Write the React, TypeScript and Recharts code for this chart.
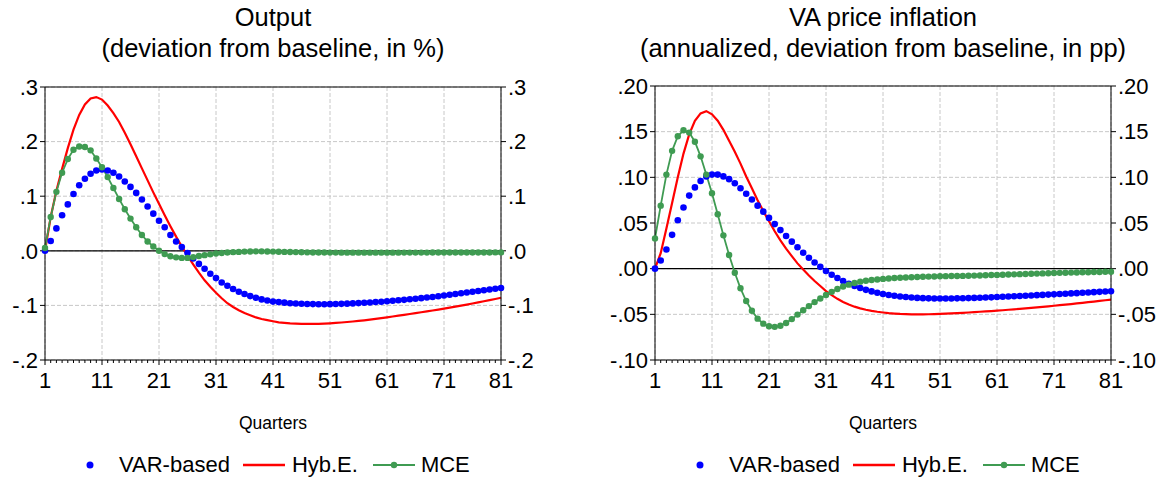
import { LineChart, Line, XAxis, YAxis, CartesianGrid, ReferenceLine } from "recharts";

const QUARTERS = Array.from({ length: 81 }, (_, i) => i + 1);
const X_TICKS = [1, 11, 21, 31, 41, 51, 61, 71, 81];
const OUTPUT_TICKS = [-0.2, -0.1, 0, 0.1, 0.2, 0.3];
const INFL_TICKS = [-0.1, -0.05, 0, 0.05, 0.1, 0.15, 0.2];

// Output (deviation from baseline, in %)
const outputVar = [
  0, 0.018, 0.041, 0.065, 0.085, 0.104, 0.12, 0.132, 0.141, 0.147,
  0.149, 0.147, 0.143, 0.136, 0.127, 0.117, 0.106, 0.094, 0.081, 0.068,
  0.055, 0.043, 0.029, 0.017, 0.007, -0.004, -0.014, -0.024, -0.033, -0.042,
  -0.05, -0.058, -0.064, -0.07, -0.075, -0.079, -0.083, -0.086, -0.089, -0.091,
  -0.093, -0.094, -0.095, -0.096, -0.0965, -0.097, -0.0974, -0.0976, -0.0978, -0.0978,
  -0.0977, -0.0975, -0.0972, -0.0968, -0.0963, -0.0958, -0.0952, -0.0946, -0.0939, -0.0932,
  -0.0924, -0.0916, -0.0907, -0.0898, -0.0888, -0.0878, -0.0867, -0.0856, -0.0845, -0.0833,
  -0.0819, -0.0805, -0.0791, -0.0777, -0.0763, -0.0749, -0.0736, -0.0722, -0.0708, -0.0694, -0.068,
];
const outputHyb = [
  0, 0.062, 0.11, 0.15, 0.188, 0.222, 0.249, 0.268, 0.279, 0.2815,
  0.277, 0.266, 0.252, 0.236, 0.216, 0.195, 0.173, 0.151, 0.129, 0.107,
  0.086, 0.065, 0.045, 0.026, 0.008, -0.009, -0.025, -0.04, -0.054, -0.066,
  -0.077, -0.087, -0.096, -0.103, -0.109, -0.114, -0.118, -0.122, -0.125, -0.127,
  -0.129, -0.131, -0.132, -0.133, -0.1335, -0.134, -0.134, -0.134, -0.134, -0.1335,
  -0.1328, -0.1321, -0.1313, -0.1304, -0.1295, -0.1285, -0.1274, -0.1262, -0.1248, -0.1233,
  -0.1218, -0.1203, -0.1188, -0.1173, -0.1158, -0.1142, -0.1126, -0.111, -0.1093, -0.1076,
  -0.1059, -0.1041, -0.1023, -0.1004, -0.0985, -0.0965, -0.0945, -0.0924, -0.0903, -0.0882, -0.086,
];
const outputMce = [
  0.005, 0.062, 0.108, 0.143, 0.168, 0.185, 0.191, 0.19, 0.184, 0.169,
  0.153, 0.135, 0.115, 0.095, 0.076, 0.059, 0.043, 0.029, 0.017, 0.008,
  0, -0.006, -0.01, -0.012, -0.013, -0.013, -0.0115, -0.0095, -0.008, -0.0065,
  -0.005, -0.004, -0.003, -0.0025, -0.002, -0.0015, -0.0012, -0.001, -0.001, -0.0012,
  -0.0015, -0.0018, -0.002, -0.0022, -0.0024, -0.0026, -0.0028, -0.003, -0.0031, -0.0032,
  -0.0033, -0.0033, -0.0034, -0.0034, -0.0034, -0.0034, -0.0034, -0.0034, -0.0034, -0.0034,
  -0.0034, -0.0034, -0.0034, -0.0033, -0.0033, -0.0033, -0.0033, -0.0033, -0.0032, -0.0032,
  -0.0032, -0.0032, -0.0031, -0.0031, -0.0031, -0.003, -0.003, -0.003, -0.003, -0.0029, -0.0029,
];

// VA price inflation (annualized, deviation from baseline, in pp)
const inflVar = [
  0, 0.009, 0.021, 0.037, 0.053, 0.067, 0.08, 0.089, 0.096, 0.101,
  0.103, 0.103, 0.101, 0.098, 0.0935, 0.088, 0.082, 0.0757, 0.069, 0.0624,
  0.0556, 0.0488, 0.0422, 0.0358, 0.0296, 0.0234, 0.0175, 0.012, 0.0068, 0.002,
  -0.0025, -0.0066, -0.0103, -0.0136, -0.0165, -0.019, -0.0212, -0.0232, -0.0249, -0.0264,
  -0.0277, -0.0288, -0.0297, -0.0305, -0.0311, -0.0316, -0.032, -0.0323, -0.0325, -0.0326,
  -0.0327, -0.0327, -0.0326, -0.0325, -0.0324, -0.0322, -0.032, -0.0318, -0.0316, -0.0314,
  -0.0311, -0.0308, -0.0305, -0.0302, -0.0299, -0.0296, -0.0293, -0.029, -0.0287, -0.0284,
  -0.0281, -0.0278, -0.0274, -0.0271, -0.0268, -0.0264, -0.0261, -0.0257, -0.0254, -0.025, -0.0247,
];
const inflHyb = [
  0, 0.017, 0.044, 0.072, 0.1, 0.126, 0.147, 0.162, 0.17, 0.1725,
  0.169, 0.162, 0.152, 0.14, 0.128, 0.115, 0.101, 0.088, 0.075, 0.063,
  0.052, 0.041, 0.031, 0.022, 0.0138, 0.0058, -0.001, -0.0075, -0.0135, -0.019,
  -0.0245, -0.029, -0.033, -0.0365, -0.0393, -0.0416, -0.0435, -0.045, -0.0462, -0.0472,
  -0.048, -0.0487, -0.0492, -0.0496, -0.0498, -0.05, -0.05, -0.05, -0.0499, -0.0497,
  -0.0495, -0.0492, -0.0489, -0.0486, -0.0483, -0.048, -0.0476, -0.0472, -0.0468, -0.0464,
  -0.046, -0.0455, -0.045, -0.0445, -0.044, -0.0435, -0.043, -0.0424, -0.0418, -0.0412,
  -0.0406, -0.04, -0.0394, -0.0388, -0.0381, -0.0374, -0.0367, -0.036, -0.0353, -0.0346, -0.0339,
];
const inflMce = [
  0.033, 0.069, 0.103, 0.129, 0.145, 0.1515, 0.149, 0.139, 0.123, 0.103,
  0.0825, 0.0595, 0.0365, 0.015, -0.0044, -0.0215, -0.0354, -0.046, -0.0547, -0.0602,
  -0.063, -0.0637, -0.0625, -0.0595, -0.0552, -0.0503, -0.0455, -0.041, -0.0366, -0.0326,
  -0.0289, -0.0254, -0.0222, -0.0196, -0.0175, -0.0157, -0.0142, -0.0132, -0.0124, -0.0118,
  -0.0112, -0.0107, -0.0103, -0.01, -0.0097, -0.0094, -0.0091, -0.0089, -0.0087, -0.0085,
  -0.0083, -0.0082, -0.0081, -0.008, -0.0079, -0.0077, -0.0076, -0.0074, -0.0072, -0.007,
  -0.0068, -0.0066, -0.0064, -0.0062, -0.006, -0.0058, -0.0056, -0.0054, -0.0052, -0.005,
  -0.0048, -0.0046, -0.0045, -0.0043, -0.0042, -0.004, -0.0039, -0.0037, -0.0036, -0.0034, -0.0033,
];

const BLUE = "#0000ff";
const RED = "#ff0000";
const GREEN = "#3f9b52";
const FONT = "'Liberation Sans', Arial, Helvetica, sans-serif";

const fmt = (decimals: number) => (v: number) => {
  const s = Math.abs(v).toFixed(decimals).replace(/^0/, "");
  return v < -1e-9 ? "-" + s : s;
};

// quarter ticks: short mark every quarter, longer mark + label every 10
function QuarterTick(props: any) {
  const { x, y, payload } = props;
  const major = X_TICKS.includes(payload.value);
  return (
    <g>
      <line x1={x} y1={y} x2={x} y2={y + (major ? 5 : 3)} stroke="#000" strokeWidth={1} />
      {major && (
        <text x={x} y={y + 28} textAnchor="middle" fontSize={22} fill="#000">
          {payload.value}
        </text>
      )}
    </g>
  );
}

type PanelProps = {
  left: number;
  width: number;
  plotLeft: number;
  plotRight: number;
  top: number;
  title: string;
  subtitle: string;
  varSeries: number[];
  hybSeries: number[];
  mceSeries: number[];
  ticks: number[];
  decimals: number;
};

function Panel(p: PanelProps) {
  const rows = QUARTERS.map((q, i) => ({
    q,
    varBased: p.varSeries[i],
    hyb: p.hybSeries[i],
    mce: p.mceSeries[i],
  }));
  const domain: [number, number] = [p.ticks[0], p.ticks[p.ticks.length - 1]];
  const rightAxisW = 40;
  const center = (p.plotLeft + p.plotRight) / 2;
  const tickStyle = { fontSize: 22, fill: "#000" };

  return (
    <div style={{ position: "absolute", left: p.left, top: 0, width: p.width, height: 479 }}>
      <div style={{ position: "absolute", left: center - 300, width: 600, top: 2, textAlign: "center", fontSize: 25.5, lineHeight: "31px" }}>
        {p.title}
        <br />
        {p.subtitle}
      </div>
      <LineChart
        width={p.width}
        height={479}
        data={rows}
        margin={{ top: p.top, right: p.width - p.plotRight - rightAxisW, bottom: 79, left: 0 }}
      >
        <CartesianGrid
          yAxisId="left"
          stroke="#c8c8c8"
          strokeDasharray="4 2"
          verticalValues={X_TICKS}
        />
        <XAxis
          dataKey="q"
          type="number"
          domain={[1, 81]}
          ticks={QUARTERS}
          interval={0}
          tickLine={false}
          tickSize={0}
          tickMargin={0}
          height={40}
          stroke="#000"
          tick={<QuarterTick />}
        />
        <YAxis
          yAxisId="left"
          domain={domain}
          ticks={p.ticks}
          interval={0}
          width={p.plotLeft}
          stroke="#000"
          tickSize={5}
          tick={tickStyle}
          tickFormatter={fmt(p.decimals)}
        />
        <YAxis
          yAxisId="right"
          orientation="right"
          domain={domain}
          ticks={p.ticks}
          interval={0}
          width={rightAxisW}
          stroke="#000"
          tickSize={5}
          tick={tickStyle}
          tickFormatter={fmt(p.decimals)}
        />
        <ReferenceLine yAxisId="left" y={domain[1]} stroke="#000" strokeWidth={1.2} />
        <ReferenceLine yAxisId="left" y={0} stroke="#000" strokeWidth={1.2} />
        <Line
          yAxisId="right"
          dataKey="varBased"
          stroke="none"
          dot={{ r: 3.3, fill: BLUE, stroke: "none" }}
          isAnimationActive={false}
        />
        <Line
          yAxisId="left"
          dataKey="hyb"
          stroke={RED}
          strokeWidth={2.2}
          dot={false}
          isAnimationActive={false}
        />
        <Line
          yAxisId="left"
          dataKey="mce"
          stroke={GREEN}
          strokeWidth={1.8}
          dot={{ r: 3.2, fill: GREEN, stroke: "none" }}
          isAnimationActive={false}
        />
      </LineChart>
      <div style={{ position: "absolute", left: center - 100, width: 200, top: 413, textAlign: "center", fontSize: 17.5 }}>
        Quarters
      </div>
      <div style={{ position: "absolute", left: center - 190, top: 451, height: 28, display: "flex", alignItems: "center", fontSize: 22, whiteSpace: "nowrap" }}>
        <svg width={14} height={14} style={{ marginRight: 22 }}>
          <circle cx={7} cy={7} r={3.5} fill={BLUE} />
        </svg>
        <span>VAR-based</span>
        <svg width={42} height={14} style={{ marginLeft: 13, marginRight: 7 }}>
          <line x1={0} y1={7} x2={42} y2={7} stroke={RED} strokeWidth={2.5} />
        </svg>
        <span>Hyb.E.</span>
        <svg width={42} height={14} style={{ marginLeft: 15, marginRight: 6 }}>
          <line x1={0} y1={7} x2={42} y2={7} stroke={GREEN} strokeWidth={2} />
          <circle cx={21} cy={7} r={3.2} fill={GREEN} />
        </svg>
        <span>MCE</span>
      </div>
    </div>
  );
}

export default function App() {
  return (
    <div style={{ position: "absolute", left: 0, top: 0, width: 1167, height: 479, background: "#fff", fontFamily: FONT, color: "#000" }}>
      <Panel
        left={0}
        width={583}
        plotLeft={45}
        plotRight={501}
        top={87}
        title="Output"
        subtitle="(deviation from baseline, in %)"
        varSeries={outputVar}
        hybSeries={outputHyb}
        mceSeries={outputMce}
        ticks={OUTPUT_TICKS}
        decimals={1}
      />
      <Panel
        left={583}
        width={584}
        plotLeft={72}
        plotRight={528}
        top={86}
        title="VA price inflation"
        subtitle="(annualized, deviation from baseline, in pp)"
        varSeries={inflVar}
        hybSeries={inflHyb}
        mceSeries={inflMce}
        ticks={INFL_TICKS}
        decimals={2}
      />
    </div>
  );
}
